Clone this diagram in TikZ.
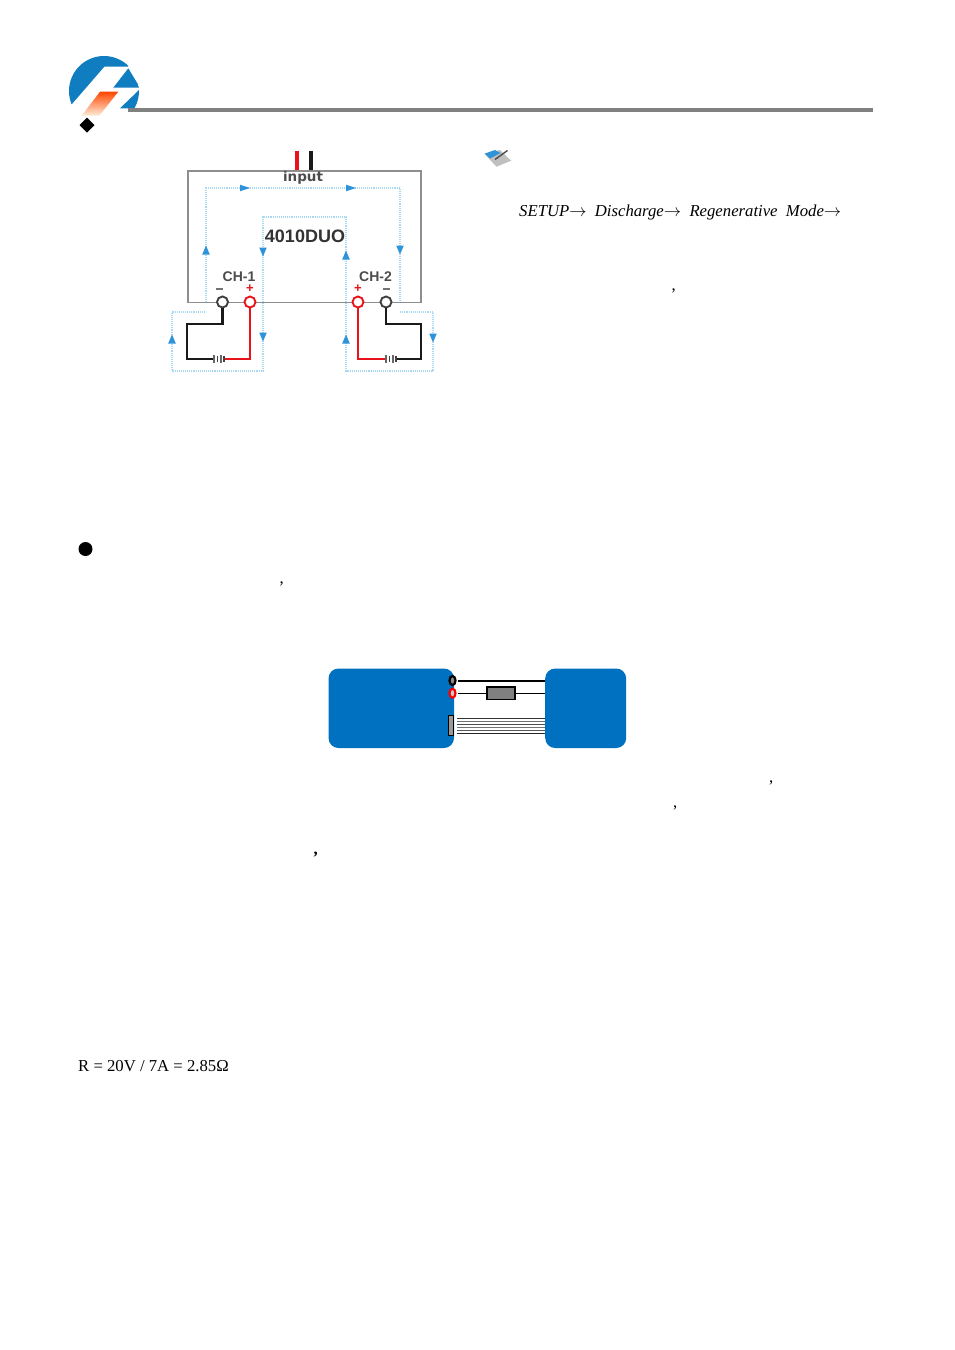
\documentclass[tikz,border=0pt]{standalone}
\usepackage{fontspec}
\setmainfont{Liberation Serif}
\setsansfont{Liberation Sans}
\newfontfamily\widesans{DejaVu Sans}
\usetikzlibrary{arrows.meta,shapes.geometric,decorations.markings,calc}
\definecolor{logoblue}{HTML}{0F7DC0}
\definecolor{boxblue}{HTML}{0070C0}
\definecolor{flowblue}{HTML}{A8D8F4}
\definecolor{arrowblue}{HTML}{2E93D8}
\definecolor{wirered}{HTML}{E8141C}
\definecolor{wireblack}{HTML}{1A1A1A}
\definecolor{framegray}{HTML}{8E8E8E}
\tikzset{
  x=1pt,y=-1pt,
  frameline/.style={draw=framegray,line width=1.6pt},
  flow/.style={draw=flowblue,line width=1.1pt,densely dotted},
  flowtip/.style={fill=arrowblue,draw=none},
  blackwire/.style={draw=wireblack,line width=2.7pt,line join=miter},
  redwire/.style={draw=wirered,line width=2.7pt,line join=miter},
  terminal/.style={circle,draw=#1,fill=white,line width=1.9pt,minimum size=11pt,inner sep=0pt},
  lab/.style={font=\sffamily\bfseries,text=black!75,inner sep=0pt},
  bluebox/.style={draw=none,fill=boxblue,rounded corners=10pt,inner sep=0pt,anchor=north west},
  pole/.style={ellipse,draw=#1,fill=black!45,line width=2.2pt,minimum width=6pt,minimum height=9pt,inner sep=0pt},
  body/.style={inner sep=0pt,anchor=base west,text=black},
}
\newcommand{\tipup}[2]{\fill[flowtip] (#1-3.8,#2+4.5) -- (#1,#2-4.5) -- (#1+3.8,#2+4.5) -- cycle;}
\newcommand{\tipdown}[2]{\fill[flowtip] (#1-3.8,#2-4.5) -- (#1,#2+4.5) -- (#1+3.8,#2-4.5) -- cycle;}
\newcommand{\tipright}[2]{\fill[flowtip] (#1-5,#2-3.3) -- (#1+5,#2) -- (#1-5,#2+3.3) -- cycle;}
\newcommand{\cellmark}[2]{%
  \draw[line width=1.3pt,draw=black!60] (#1,#2-4) -- (#1,#2+4);
  \draw[line width=1.3pt,draw=black!75] (#1+3.5,#2-3) -- (#1+3.5,#2+3);
  \draw[line width=1.3pt,draw=black!60] (#1+7,#2-4) -- (#1+7,#2+4);
  \draw[line width=1.3pt,draw=black!75] (#1+10,#2-3) -- (#1+10,#2+3);}
\begin{document}
\begin{tikzpicture}
\useasboundingbox (0,0) rectangle (954,1350);
\fill[white] (0,0) rectangle (954,1350);

% logo
\begin{scope}
  \clip (104,91) circle (35);
  \fill[logoblue] (104.3,66.7) -- (71.7,104.3) -- (60,104.3) -- (60,45) -- (140,45) -- (128.3,66.7) -- cycle;
  \fill[logoblue] (128.3,68.3) -- (113.3,87.7) -- (140,87.7) -- cycle;
  \fill[logoblue] (120,108.3) -- (139,90) -- (145,108.3) -- cycle;
\end{scope}
\shade[top color=orange!55!red,bottom color=orange!15!white] (100,91.7) -- (118.3,91.7) -- (99.3,115.7) -- (81.7,115.7) -- cycle;
\fill[black] (87,117.5) -- (94.5,125) -- (87,132.5) -- (79.5,125) -- cycle;
\draw[draw=black!50,line width=3.2pt] (128,110) -- (873,110);

% instrument frame
\node[frameline,minimum width=233pt,minimum height=131.5pt,inner sep=0pt,anchor=north west] (inst) at (187.2,170) {};

% flow paths
\draw[flow] (206,302) -- (206,188) -- (400,188) -- (400,302);
\draw[flow] (205,312) -- (172,312) -- (172,371) -- (263,371) -- (263,217) -- (346,217) -- (346,371) -- (433,371) -- (433,312) -- (400,312);

\draw[redwire,line width=3.4pt] (297,151) -- (297,170);
\draw[blackwire,line width=3.4pt] (311,151) -- (311,170);
\node[lab,font=\widesans\bfseries\fontsize{13.5}{14}\selectfont,text=black!70] (inlab) at (303,177.5) {input};
\node[lab,font=\sffamily\bfseries\fontsize{18}{18}\selectfont,text=black!80] (model) at (305,236) {4010DUO};
\node[lab,font=\sffamily\bfseries\fontsize{14}{14}\selectfont,text=black!70] (ch1) at (239,276.5) {CH-1};
\node[lab,font=\sffamily\bfseries\fontsize{14}{14}\selectfont,text=black!70] (ch2) at (375.5,276.5) {CH-2};
\fill[black!55] (216,287.5) rectangle (222.5,289.5);
\fill[black!55] (383,287.5) rectangle (389.5,289.5);
\node[lab,font=\sffamily\bfseries\fontsize{13}{13}\selectfont,text=wirered] (p1) at (250,288.5) {+};
\node[lab,font=\sffamily\bfseries\fontsize{13}{13}\selectfont,text=wirered] (p2) at (358,288.5) {+};

% flow arrowheads
\tipup{206}{250}\tipright{245}{188}\tipright{351}{188}\tipdown{400}{250}
\tipdown{263}{252}\tipup{346}{255}\tipup{172}{339}\tipdown{263}{337}\tipup{346}{339}\tipdown{433}{338}

% terminals
\node[terminal=black!75] (t1) at (222.5,302) {};
\node[terminal=wirered] (t2) at (250,302) {};
\node[terminal=wirered] (t3) at (358,302) {};
\node[terminal=black!75] (t4) at (386,302) {};

% batteries
\coordinate (b1l) at (213,359); \coordinate (b1r) at (225,359);
\coordinate (b2l) at (385,359); \coordinate (b2r) at (397,359);
\draw[blackwire] (t1.south) -- (222.5,324) -- (187,324) -- (187,359) -- (b1l);
\draw[redwire] (t2.south) -- (250,359) -- (b1r);
\draw[redwire] (t3.south) -- (358,359) -- (b2l);
\draw[blackwire] (t4.south) -- (386,324) -- (421,324) -- (421,359) -- (b2r);
\cellmark{214}{359}
\cellmark{386}{359}

% note icon
\fill[black!25] (484.5,154) -- (496.5,166.7) -- (511,160.7) -- (500,150) -- cycle;
\fill[arrowblue] (485,153.5) -- (490,158.5) -- (500.5,153) -- (495,150) -- cycle;
\draw[draw=black!70,line width=1.4pt] (495,159.5) -- (507.5,150.5);

% note text
\node[body,font=\itshape\fontsize{16.7}{16.7}\selectfont] (menu) at (519,216) {SETUP$\rightarrow$\ \ Discharge$\rightarrow$\ \ Regenerative\ \ Mode$\rightarrow$};
\node[body,font=\fontsize{16.7}{16.7}\selectfont] (c1) at (671.5,290) {,};

% bullet
\fill[black] (85.5,549) circle (7);
\node[body,font=\fontsize{16.7}{16.7}\selectfont] (c2) at (279.5,583) {,};

% wiring diagram
\node[bluebox,minimum width=125.5pt,minimum height=79.5pt] (load) at (328.3,668.3) {};
\node[bluebox,minimum width=81pt,minimum height=79.5pt] (psu) at (545,668.3) {};
\node[pole=black] (pb) at (452.5,680.5) {};
\node[pole=red,fill=black!20] (pr) at (452.5,693.2) {};
\draw[line width=2pt,black] (pb.east)++(1.5,0) -- (psu.west |- pb.east);
\node[draw=black,line width=1.4pt,fill=black!50,minimum width=28pt,minimum height=12.5pt,inner sep=0pt] (res) at (501,693.2) {};
\draw[line width=1pt,black] (pr.east)++(1.5,0) -- (res.west);
\draw[line width=1pt,black] (res.east) -- (psu.west |- res.east);
\node[draw=black,line width=1.2pt,fill=black!40,minimum width=4.5pt,minimum height=20pt,inner sep=0pt] (conn) at (451,725.5) {};
\foreach \yy/\cc in {718.5/black!80,721.5/black!55,724.5/black!70,727.5/black!55,730.5/black!65,733.5/black!85}
  \draw[line width=.8pt,draw=\cc] (457,\yy) -- (545,\yy);

% stray punctuation and formula
\node[body,font=\fontsize{16.7}{16.7}\selectfont] (c3) at (769,782) {,};
\node[body,font=\fontsize{16.7}{16.7}\selectfont] (c4) at (673,807) {,};
\node[body,font=\bfseries\fontsize{16.7}{16.7}\selectfont] (c5) at (313.5,854) {,};
\node[body,font=\fontsize{16.7}{16.7}\selectfont] (formula) at (78,1071.5) {R = 20V / 7A = 2.85Ω};
\end{tikzpicture}
\end{document}
